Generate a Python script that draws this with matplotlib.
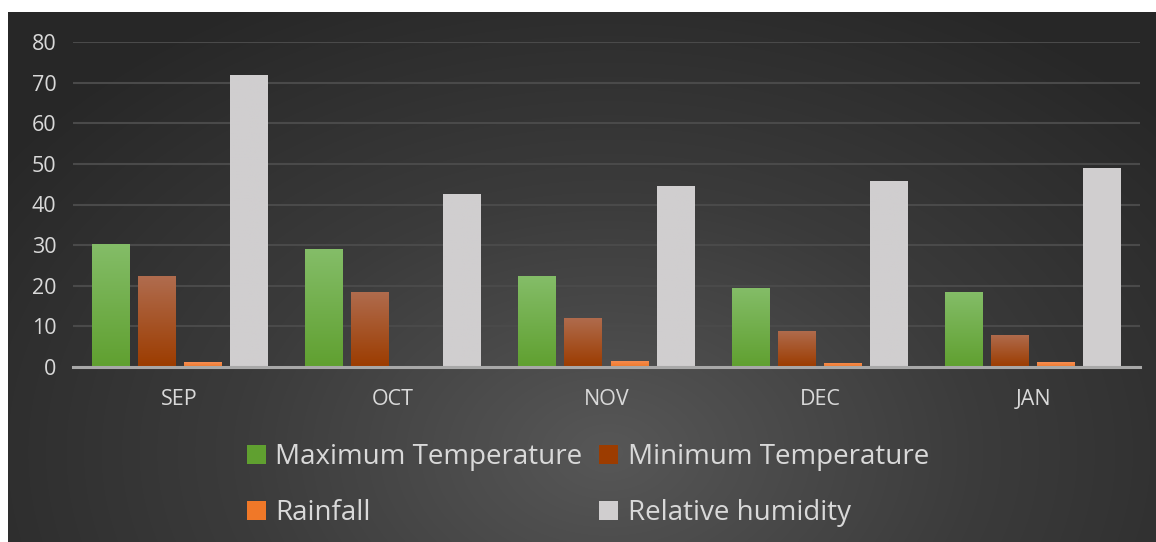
import matplotlib.pyplot as plt
import matplotlib.colors as mcolors
from matplotlib.patches import Rectangle
import numpy as np

# data
months = ['SEP', 'OCT', 'NOV', 'DEC', 'JAN']
max_temp = [30.3, 29.0, 22.4, 19.5, 18.5]
min_temp = [22.4, 18.5, 12.1, 8.9, 7.9]
rainfall = [1.2, 0.3, 1.5, 1.0, 1.2]
humidity = [71.9, 42.6, 44.6, 45.8, 49.0]
series_names = ['Maximum Temperature', 'Minimum Temperature', 'Rainfall', 'Relative humidity']
yticks = [0, 10, 20, 30, 40, 50, 60, 70, 80]

# gradient colours (top, bottom) for each series
grads = [('#84bd68', '#60a030'), ('#b06c4e', '#9c3c00'), ('#f78f55', '#f07828'), ('#d0cecf', '#d0cecf')]

plt.rcParams['font.family'] = ['Open Sans', 'DejaVu Sans']
txt_col = '#d9d9d9'

fig = plt.figure(figsize=(11.56, 5.42), dpi=100)
fig.patch.set_facecolor('white')

# radial background
bg = fig.add_axes([8/1156, 0, 1148/1156, 530/542])
bg.set_axis_off()
yy, xx = np.mgrid[0:530, 0:1148]
d = np.sqrt(((xx - 600) / 750.0)**2 + ((yy - 440) / 520.0)**2)
d = np.clip(d, 0, 1)
bgcmap = mcolors.LinearSegmentedColormap.from_list('bg', ['#575757', '#3b3b3b', '#272727'])
bg.imshow(d, cmap=bgcmap, vmin=0, vmax=1, aspect='auto', interpolation='bilinear')

ax = fig.add_axes([73/1156, 175/542, 1067/1156, 325/542])
ax.set_facecolor('none')
ax.set_xlim(-0.5, 4.5)
ax.set_ylim(0, 80)

x = np.arange(len(months))
width = 0.178
step = 0.216
all_vals = [max_temp, min_temp, rainfall, humidity]
for k, vals in enumerate(all_vals):
    cmap = mcolors.LinearSegmentedColormap.from_list('g%d' % k, [grads[k][1], grads[k][0]])
    grad = np.linspace(0, 1, 100).reshape(-1, 1)
    for i, v in enumerate(vals):
        x0 = x[i] + (k - 1.5) * step - width / 2
        rect = Rectangle((x0, 0), width, v, facecolor='none', edgecolor='none')
        ax.add_patch(rect)
        im = ax.imshow(grad, cmap=cmap, origin='lower', aspect='auto',
                       extent=(x0, x0 + width, 0, v), zorder=2)
        im.set_clip_path(rect)

ax.set_xlim(-0.5, 4.5)
ax.set_ylim(0, 80)
ax.set_yticks(yticks)
ax.set_xticks(x)
ax.set_xticklabels(months)
ax.grid(axis='y', color='#4a4a4a', linewidth=1.5, zorder=0)
ax.set_axisbelow(True)
for s in ['top', 'right', 'left']:
    ax.spines[s].set_visible(False)
ax.spines['bottom'].set_color('#a8a8a8')
ax.spines['bottom'].set_linewidth(2.2)
ax.spines['bottom'].set_zorder(3)
ax.tick_params(axis='both', length=0, colors=txt_col, labelsize=15.5)
ax.tick_params(axis='y', pad=12)
ax.tick_params(axis='x', pad=16)

handles = [Rectangle((0, 0), 1, 1, facecolor=grads[k][1]) for k in range(4)]
# order so that columns read row-wise
order = [0, 2, 1, 3]
leg = fig.legend([handles[i] for i in order], [series_names[i] for i in order],
                 ncol=2, loc='center', bbox_to_anchor=(588/1156, 1 - 485/542),
                 frameon=False, fontsize=20, handlelength=0.68, handleheight=0.68,
                 handletextpad=0.35, columnspacing=0.6, labelspacing=1.0)
for t in leg.get_texts():
    t.set_color(txt_col)

plt.savefig('out.png', dpi=100)
